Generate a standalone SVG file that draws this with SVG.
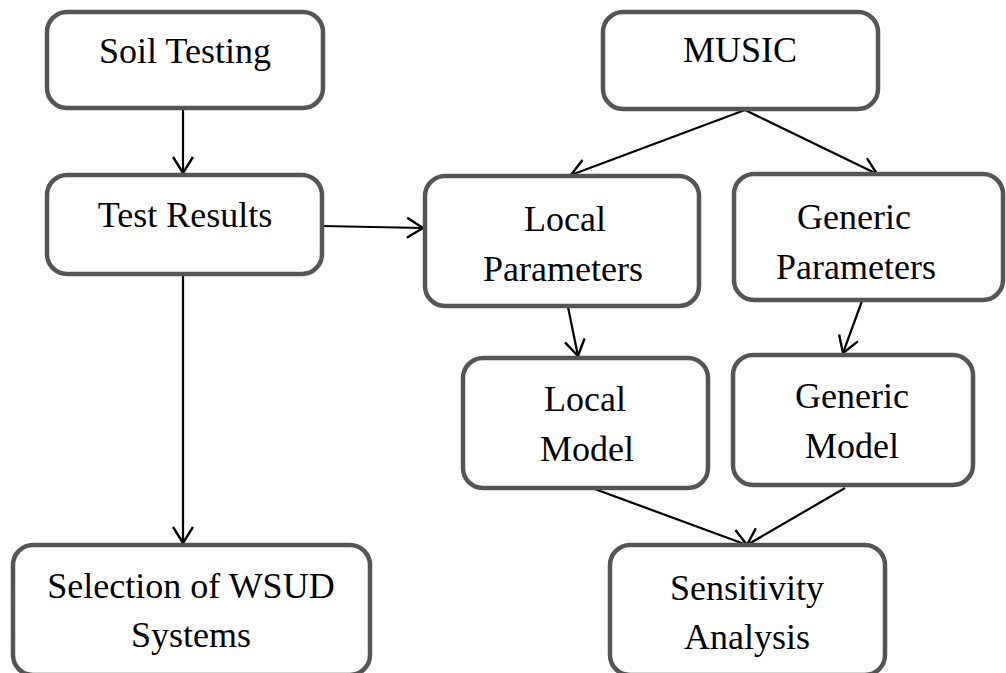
<svg xmlns="http://www.w3.org/2000/svg" width="1006" height="673" viewBox="0 0 1006 673">
<defs>
<style>
.box{fill:#fff;stroke:#555;stroke-width:4.5}
.t{font-family:"Liberation Serif","Times New Roman",serif;font-size:36px;fill:#000;text-anchor:middle}
.c{stroke:#000;stroke-width:2.2;fill:none;marker-end:url(#a)}
</style>
<marker id="a" viewBox="0 0 18 22" refX="17" refY="11" markerWidth="18" markerHeight="22" markerUnits="userSpaceOnUse" orient="auto">
<path d="M1,1 L17,11 L1,21" fill="none" stroke="#000" stroke-width="2.4"/>
</marker>
</defs>
<rect width="1006" height="673" fill="#fff"/>
<g id="connectors">
<line class="c" x1="183" y1="108" x2="183" y2="173"/>
<line class="c" x1="322" y1="226" x2="423" y2="228"/>
<line class="c" x1="183" y1="274" x2="183" y2="543"/>
<line class="c" x1="745" y1="110" x2="571" y2="175"/>
<line class="c" x1="745" y1="110" x2="877" y2="174"/>
<line class="c" x1="568" y1="307" x2="578" y2="356"/>
<line class="c" x1="862" y1="301" x2="843" y2="353"/>
<line class="c" x1="592" y1="488" x2="747" y2="545"/>
<line class="c" x1="845" y1="488" x2="747" y2="545"/>
</g>
<g id="soil-testing"><rect class="box" x="47" y="12" width="276" height="96" rx="20"/><text class="t" x="185" y="63">Soil Testing</text></g>
<g id="music"><rect class="box" x="603" y="12" width="275" height="97" rx="20"/><text class="t" x="740" y="62">MUSIC</text></g>
<g id="test-results"><rect class="box" x="47" y="175" width="275" height="99" rx="20"/><text class="t" x="185" y="227">Test Results</text></g>
<g id="local-parameters"><rect class="box" x="425" y="176" width="274" height="130" rx="20"/><text class="t" x="565" y="231">Local</text><text class="t" x="563" y="281">Parameters</text></g>
<g id="generic-parameters"><rect class="box" x="734" y="174" width="269" height="126" rx="20"/><text class="t" x="854" y="229">Generic</text><text class="t" x="856" y="279">Parameters</text></g>
<g id="local-model"><rect class="box" x="463" y="358" width="245" height="130" rx="20"/><text class="t" x="585" y="411">Local</text><text class="t" x="587" y="461">Model</text></g>
<g id="generic-model"><rect class="box" x="733" y="355" width="240" height="130" rx="20"/><text class="t" x="852" y="408">Generic</text><text class="t" x="852" y="458">Model</text></g>
<g id="selection-wsud"><rect class="box" x="13" y="545" width="357" height="130" rx="20"/><text class="t" x="191" y="598">Selection of WSUD</text><text class="t" x="191" y="647">Systems</text></g>
<g id="sensitivity-analysis"><rect class="box" x="610" y="545" width="275" height="130" rx="20"/><text class="t" x="747" y="600">Sensitivity</text><text class="t" x="747" y="649">Analysis</text></g>
</svg>
